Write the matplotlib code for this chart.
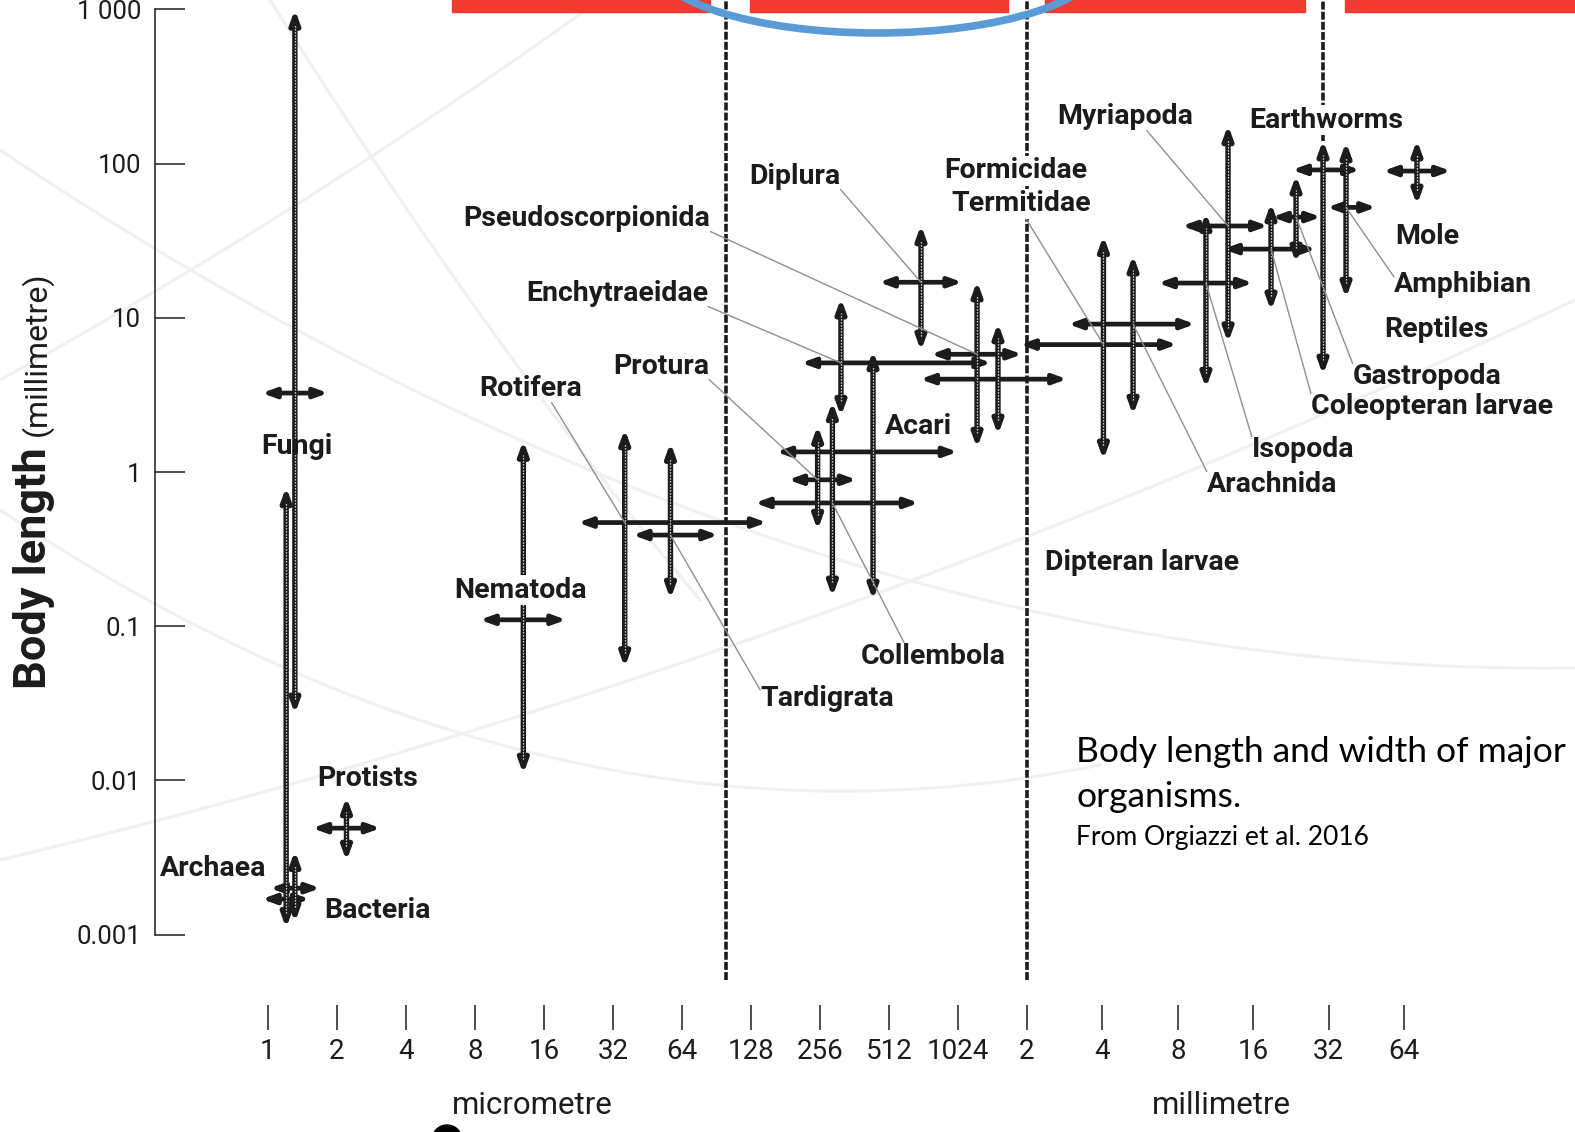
import numpy as np
import matplotlib.pyplot as plt
from matplotlib.patches import Rectangle, Ellipse

W, H = 1575, 1132

# -------------------------
# Data: body width in micrometres, body length in millimetres
# -------------------------
names = ["Fungi", "Archaea", "Bacteria", "Protists", "Nematoda", "Rotifera",
         "Tardigrata", "Protura", "Collembola", "Acari", "Enchytraeidae",
         "Diplura", "Pseudoscorpionida", "Formicidae", "Termitidae", "Arachnida",
         "Myriapoda", "Isopoda", "Coleopteran larvae", "Gastropoda",
         "Earthworms", "Amphibian", "Mole"]
# horizontal bar: width range, drawn at a typical length
width_lo = [0.94, 1.02, 0.94, 1.56, 8.4, 22.5, 39, 186, 133, 165, 212,
            463, 780, 700, 1910, 2990, 8510, 6830, 12410, 19470, 23420, 32300, 54060]
width_hi = [1.83, 1.69, 1.52, 3.1, 20, 150, 92, 370, 690, 1020, 1430,
            1070, 1950, 2960, 8130, 9600, 18760, 16340, 29180, 30550, 43720, 50700, 100900]
bar_length = [3.25, 0.0020, 0.0017, 0.0049, 0.11, 0.47, 0.39, 0.89, 0.63, 1.35, 5.1,
              17, 5.8, 4.0, 6.7, 9.1, 39.4, 16.8, 27.9, 45, 91, 52, 89.5]
# vertical bar: length range, drawn at a typical width
bar_width = [1.31, 1.2, 1.31, 2.2, 13, 36, 57, 250, 290, 436, 316,
             706, 1240, 1530, 4135, 5430, 13000, 10610, 19300, 24290, 31130, 38460, 73830]
length_lo = [0.027, 0.0011, 0.0012, 0.003, 0.011, 0.054, 0.15, 0.42, 0.155, 0.148, 2.3,
             6.1, 1.43, 1.74, 1.2, 2.34, 6.9, 3.5, 11.1, 22.7, 4.26, 13.4, 54]
length_hi = [1000, 0.80, 0.0035, 0.0078, 1.6, 1.9, 1.55, 2.0, 2.85, 6.1, 13.4,
             40, 17.3, 9.25, 34, 25.5, 178, 48, 55.5, 84, 142, 138, 142]

# size class borders (micrometres) and where they stop at the bottom (mm)
divider_width = [100, 2048, 31000]
divider_bottom = [5.1e-4, 5.1e-4, 140]

x_ticks = [2 ** k for k in range(17)]
x_tick_labels = ["1", "2", "4", "8", "16", "32", "64", "128", "256", "512", "1024",
                 "2", "4", "8", "16", "32", "64"]
y_ticks = [0.001, 0.01, 0.1, 1, 10, 100, 1000]
y_tick_labels = ["0.001", "0.01", "0.1", "1", "10", "100", "1 000"]

# label layout: text, centre in pixels, leader start on the text box, white mask
labels = [
    ("Fungi", 297, 446, None, False),
    ("Protists", 368, 778, None, False),
    ("Archaea", 213, 868, None, False),
    ("Bacteria", 377, 910, None, False),
    ("Nematoda", 521, 590, None, True),
    ("Rotifera", 531, 389, (0.7, 0.0), False),
    ("Protura", 661, 366, (1.0, 0.0), False),
    ("Enchytraeidae", 617, 293, (1.0, 0.0), False),
    ("Pseudoscorpionida", 587, 218, (1.0, 0.0), False),
    ("Diplura", 795, 176, (1.0, 0.0), False),
    ("Formicidae", 1016, 171, None, True),
    ("Termitidae", 1021, 204, (0.53, 0.0), True),
    ("Acari", 918, 427, None, False),
    ("Collembola", 933, 656, (0.3, 1.0), False),
    ("Tardigrata", 827, 698, (0.0, 0.8), False),
    ("Dipteran larvae", 1142, 562, None, False),
    ("Myriapoda", 1125, 117, (0.66, 0.0), False),
    ("Earthworms", 1326, 120, None, True),
    ("Mole", 1427, 237, None, False),
    ("Amphibian", 1463, 285, (0.0, 0.8), False),
    ("Reptiles", 1436, 329, None, False),
    ("Gastropoda", 1427, 377, (0.0, 1.0), False),
    ("Coleopteran larvae", 1432, 407, (0.0, 1.0), False),
    ("Isopoda", 1303, 450, (0.0, 1.0), False),
    ("Arachnida", 1272, 485, (0.0, 1.0), False),
]

# -------------------------
# Scales
# -------------------------
OCT_PX = 69.0        # one octave on the micrometre part
MM_OCT_PX = 75.4     # one octave on the millimetre part
X1_PX = 268          # 1 micrometre
DEC_PX = 154.2       # one decade of length
Y1_PX = 472          # 1 mm
K = MM_OCT_PX / OCT_PX

INK = "#1c1c1c"
LEADER = "#8f8f8f"
FONT = ["Roboto", "DejaVu Sans"]


def fwd(w):
    p = np.log2(np.maximum(w, 1e-12))
    return np.where(p <= 11, p, 11 + (p - 11) * K)


def inv(s):
    return np.where(s <= 11, 2.0 ** s, 2.0 ** (11 + (s - 11) / K))


def xpx(x):
    return float(inv((x - X1_PX) / OCT_PX))


def ypx(y):
    return 10 ** ((Y1_PX - y) / DEC_PX)


def frac(x, y):
    return (x / W, 1 - y / H)


fig = plt.figure(figsize=(W / 100, H / 100), dpi=100)
ax = fig.add_axes([0, 0, 1, 1])
ax.patch.set_visible(False)
ax.set_xscale("function", functions=(fwd, inv))
ax.set_yscale("log")
ax.set_xlim(xpx(0), xpx(W))
ax.set_ylim(ypx(H), ypx(0))

# faint background arcs
for pts in [[(0, 150), (520, 440), (1575, 668)],
            [(0, 860), (600, 690), (1575, 300)],
            [(0, 380), (280, 215), (600, 0)],
            [(0, 510), (450, 730), (1100, 765)],
            [(270, 0), (470, 300), (700, 600)]]:
    px_, py_ = zip(*pts)
    c = np.polyfit(px_, py_, 2)
    xs = np.linspace(px_[0], px_[-1], 200)
    ys = np.polyval(c, xs)
    fig.add_artist(plt.Line2D(xs / W, 1 - ys / H, color="#f0f0f0", lw=2.2, zorder=-1))

# axes
ax.spines["top"].set_visible(False)
ax.spines["right"].set_visible(False)
ax.spines["left"].set_position(("data", xpx(155)))
ax.spines["left"].set_bounds(1e-3, 1e3)
ax.spines["left"].set_linewidth(1.1)
ax.spines["left"].set_color(INK)
ax.spines["bottom"].set_position(("data", ypx(1030)))
ax.spines["bottom"].set_color("none")
ax.yaxis.set_minor_locator(plt.NullLocator())
ax.xaxis.set_minor_locator(plt.NullLocator())
ax.set_yticks(y_ticks, y_tick_labels, fontsize=18.5, family=FONT, color=INK)
ax.set_xticks(x_ticks, x_tick_labels, fontsize=20, family=FONT, color=INK)
ax.tick_params(axis="y", direction="in", length=21.6, width=1.1, pad=10, color=INK)
ax.tick_params(axis="x", direction="in", length=18, width=1.1, pad=6, color=INK)

# class borders
for w, lo in zip(divider_width, divider_bottom):
    ax.plot([w, w], [lo, ypx(0)], color=INK, lw=2.6, ls=(0, (2.2, 0.6)), zorder=2)

# crosses
h_arrow = dict(arrowstyle="<|-|>,head_length=0.55,head_width=0.2", color=INK, lw=3.4,
               shrinkA=0, shrinkB=0, mutation_scale=14)
v_arrow = dict(h_arrow, lw=3.9)
for i in range(len(names)):
    ax.annotate("", xy=(width_hi[i], bar_length[i]), xytext=(width_lo[i], bar_length[i]),
                arrowprops=h_arrow, zorder=3)
    ax.annotate("", xy=(bar_width[i], length_hi[i]), xytext=(bar_width[i], length_lo[i]),
                arrowprops=v_arrow, zorder=3)
    ax.plot([bar_width[i]] * 2, [length_lo[i] * 1.25, length_hi[i] / 1.25],
            color="white", lw=0.9, ls=(0, (1, 1.4)), zorder=4)

# labels and leaders
for text, lx, ly, rel, masked in labels:
    box = dict(facecolor="white", edgecolor="none", pad=1) if masked else None
    kw = dict(ha="center", va="center", fontsize=20.5, family=FONT, weight="bold",
              color=INK, bbox=box, zorder=6)
    if rel is None:
        ax.annotate(text, xy=frac(lx, ly), xycoords="figure fraction", **kw)
    else:
        j = names.index(text)
        ax.annotate(text, xy=(bar_width[j], bar_length[j]), xytext=frac(lx, ly),
                    textcoords="figure fraction",
                    arrowprops=dict(arrowstyle="-", color=LEADER, lw=1.0, shrinkA=0,
                                    shrinkB=0, patchA=None, relpos=rel), **kw)

# axis titles
fig.text(34 / W, 1 - 447 / H, "Body length", rotation=90, ha="center", va="top",
         family=FONT, weight="bold", fontsize=32.5, color=INK)
fig.text(37 / W, 1 - 436 / H, "(millimetre)", rotation=90, ha="center", va="bottom",
         family=FONT, fontsize=23, color=INK)
fig.text(*frac(532, 1106), "micrometre", ha="center", va="center", family=FONT,
         fontsize=22.5, color=INK)
fig.text(*frac(1221, 1106), "millimetre", ha="center", va="center", family=FONT,
         fontsize=22.5, color=INK)

# caption
fig.text(*frac(1076, 752), "Body length and width of major", ha="left", va="center",
         family="Lato", fontsize=25.5, color="black")
fig.text(*frac(1076, 797), "organisms.", ha="left", va="center",
         family="Lato", fontsize=25.5, color="black")
fig.text(*frac(1076, 837), "From Orgiazzi et al. 2016", ha="left", va="center",
         family="Lato", fontsize=19, color="black")

# cropped slide decorations at the top and bottom
for x0, x1 in [(452, 710), (750, 1008), (1045, 1305), (1345, 1575)]:
    fig.add_artist(Rectangle(frac(x0, 12), (x1 - x0) / W, 12 / H,
                             transform=fig.transFigure, color="#ef3b30", zorder=5))
fig.add_artist(Ellipse(frac(877, -40), 450 / W, 146 / H, transform=fig.transFigure,
                       fill=False, edgecolor="#5b9bd5", lw=5.5, zorder=5))
fig.add_artist(Ellipse(frac(447, 1140), 30 / W, 30 / H, transform=fig.transFigure,
                       color="black", zorder=5))

fig.savefig("out.png", dpi=100)
